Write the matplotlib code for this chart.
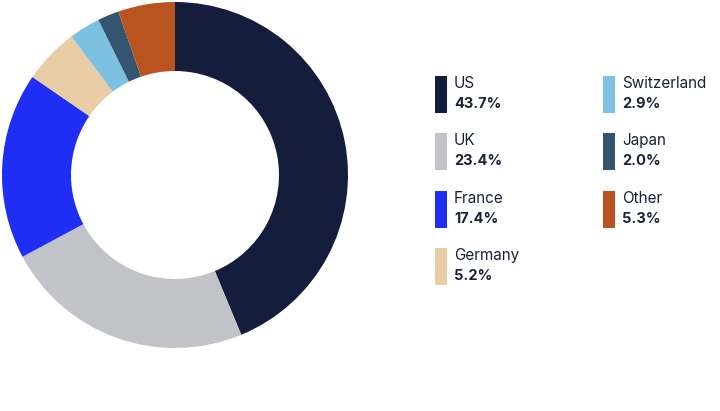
import matplotlib.pyplot as plt
from matplotlib.patches import Rectangle

# data
countries = ["US", "UK", "France", "Germany", "Switzerland", "Japan", "Other"]
shares = [43.7, 23.4, 17.4, 5.2, 2.9, 2.0, 5.3]
colors = ["#141d3c", "#c1c3c8", "#1f2ef5", "#e8cda5", "#7dc1e0", "#34556f", "#b9531f"]

plt.rcParams["font.family"] = ["Inter", "DejaVu Sans"]

fig = plt.figure(figsize=(7.2, 4.11), dpi=100)
ax = fig.add_axes([0, 0, 1, 1])

# donut (y axis inverted, so counterclock=True draws clockwise on screen)
ax.pie(shares, colors=colors, startangle=-90, counterclock=True,
       center=(175, 175), radius=173, frame=True,
       wedgeprops=dict(width=69, linewidth=0))
ax.set_xlim(0, 720)
ax.set_ylim(411, 0)
ax.set_aspect("equal")
ax.axis("off")

# legend
col_x = [435, 603]
row_y = [76, 133, 191, 248]
for i, (name, val, c) in enumerate(zip(countries, shares, colors)):
    col = 0 if i < 4 else 1
    row = i if i < 4 else i - 4
    x = col_x[col]
    y = row_y[row]
    ax.add_patch(Rectangle((x, y), 12, 37, color=c, linewidth=0))
    ax.text(x + 19, y + 12, name, fontsize=11, color="#1a2238", va="baseline")
    ax.text(x + 19, y + 32, f"{val:.1f}%", fontsize=10.5, fontweight="bold",
            color="#1a2238", va="baseline")

fig.savefig("out.png", dpi=100)
